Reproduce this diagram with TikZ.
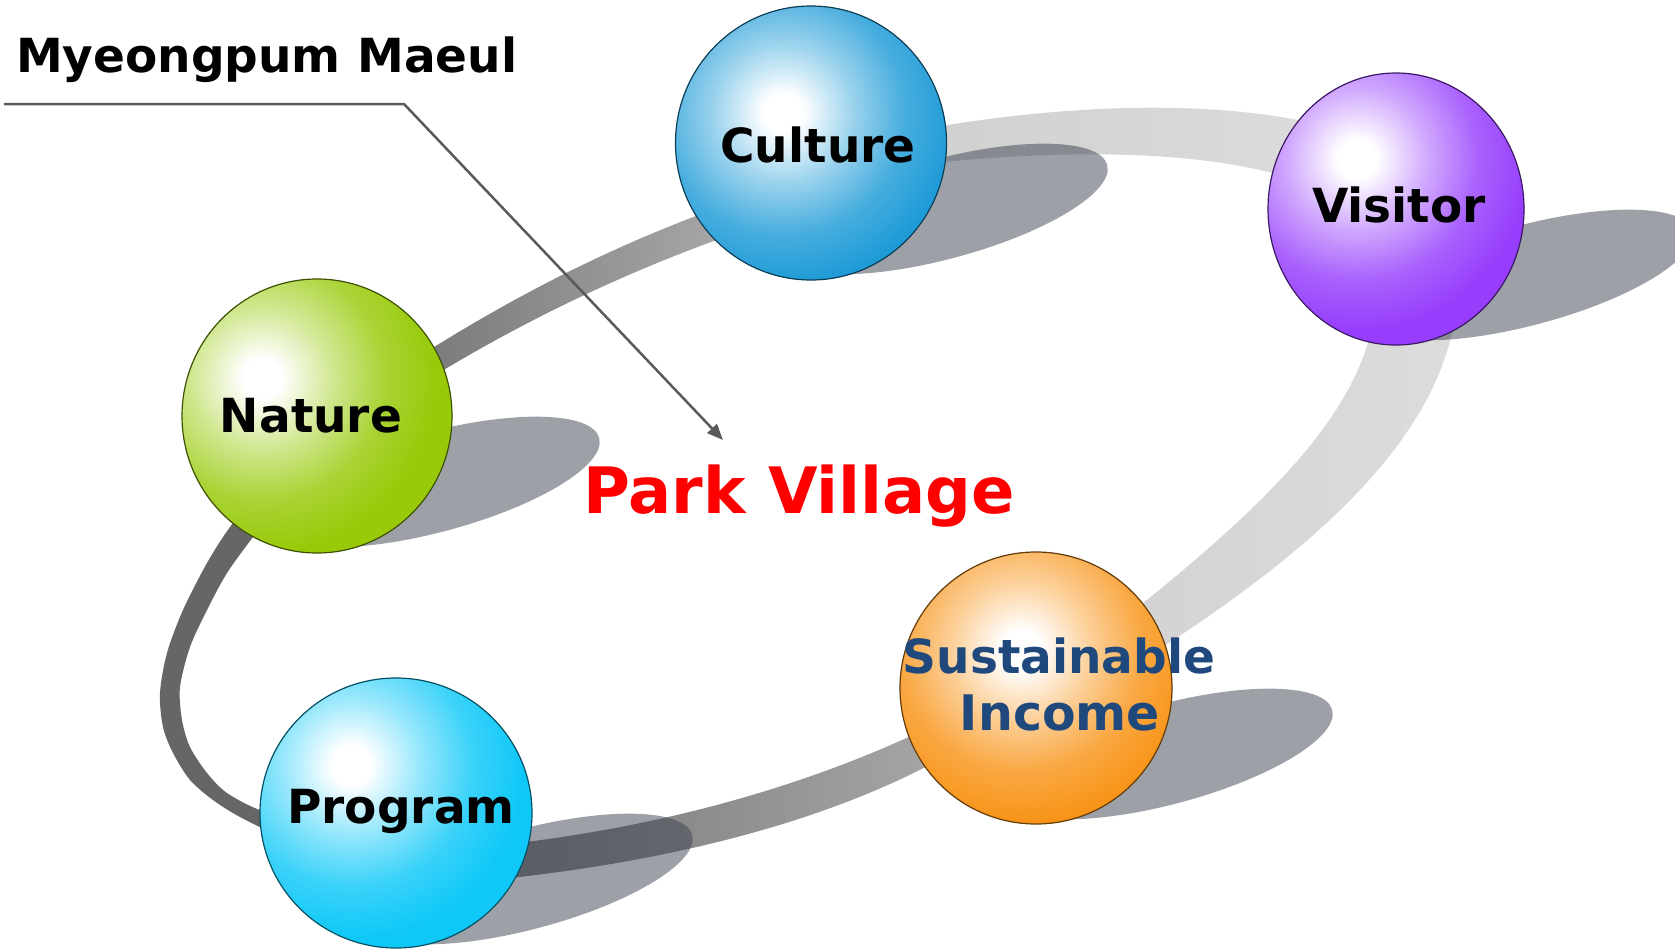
\documentclass[tikz,border=0pt]{standalone}
\usepackage{fontspec}
\setmainfont{DejaVu Sans}
\usetikzlibrary{shapes.geometric,arrows.meta}
\definecolor{culturec}{RGB}{30,155,215}
\definecolor{visitorc}{RGB}{150,62,252}
\definecolor{naturec}{RGB}{152,202,10}
\definecolor{programc}{RGB}{15,200,248}
\definecolor{incomec}{RGB}{248,148,24}
\definecolor{shadowc}{RGB}{60,68,80}
\definecolor{incometext}{RGB}{31,73,125}
\definecolor{leaderc}{RGB}{90,90,90}
\definecolor{segE}{RGB}{102,102,102}
\definecolor{segAl}{RGB}{118,118,118}
\definecolor{segAr}{RGB}{178,178,178}
\definecolor{segBl}{RGB}{206,206,206}
\definecolor{segBr}{RGB}{220,220,220}
\definecolor{segCl}{RGB}{210,210,210}
\definecolor{segCr}{RGB}{220,220,220}
\definecolor{segDl}{RGB}{116,116,116}
\definecolor{segDr}{RGB}{168,168,168}
\newcommand{\declglossy}[2]{\pgfdeclareradialshading{#1}{\pgfpointorigin}{color(0bp)=(white); color(1.85bp)=(white); color(6.8bp)=(#2!45!white); color(11.7bp)=(#2!82!white); color(16.6bp)=(#2); color(50bp)=(#2)}}
\declglossy{glossyNature}{naturec}
\declglossy{glossyCulture}{culturec}
\declglossy{glossyVisitor}{visitorc}
\declglossy{glossyProgram}{programc}
\declglossy{glossyIncome}{incomec}
\begin{document}
\begin{tikzpicture}[x=1pt,y=-1pt,
  sphere/.style n args={4}{ellipse, inner sep=0pt, draw=#2!40!black, line width=1.2pt, fill=#2,
    path picture={\shade[shading=#1] ([shift={(#3,#4)}]path picture bounding box.center) circle [radius=260];}},
  lbl/.style={font=\fontsize{47}{56}\selectfont\bfseries, anchor=base, inner sep=0pt},
  shad/.style={fill=shadowc, fill opacity=0.5},
  band/.style={draw=none}]
\useasboundingbox (0,0) rectangle (1675,950);

% ring band segments
\fill[band, fill=segE] plot[smooth] coordinates {(262,488) (230,527) (207,563) (183,610) (167,653) (160,693) (163,727) (173,753) (190,780) (213,800) (240,817) (290,842)} -- plot[smooth] coordinates {(300,818) (260,810) (227,793) (207,773) (190,747) (182,720) (180,687) (190,647) (207,610) (227,573) (253,537) (285,495)} -- cycle;
\shade[band, left color=segAl, right color=segAr] (395,372) .. controls (520,290) and (650,225) .. (800,181) -- (800,212) .. controls (650,258) and (520,320) .. (395,400) -- cycle;
\shade[band, left color=segBl, right color=segBr] (860,142) .. controls (1000,110) and (1200,90) .. (1340,130) -- (1340,200) .. controls (1250,145) and (1050,145) .. (860,172) -- cycle;
\shade[band, left color=segCl, right color=segCr] (1378,290) .. controls (1370,400) and (1290,490) .. (1090,645) -- (1110,680) .. controls (1340,540) and (1452,420) .. (1458,290) -- cycle;
\shade[band, left color=segDl, right color=segDr] (960,712) .. controls (820,785) and (650,832) .. (470,848) -- (470,882) .. controls (650,866) and (830,825) .. (960,748) -- cycle;

% shadows
\fill[shad, rotate around={15:(435,482)}] (435,482) ellipse [x radius=170, y radius=50];
\fill[shad, rotate around={15:(943,209)}] (943,209) ellipse [x radius=170, y radius=50];
\fill[shad, rotate around={15:(1528,275)}] (1528,275) ellipse [x radius=170, y radius=50];
\fill[shad, rotate around={15:(528,879)}] (528,879) ellipse [x radius=170, y radius=50];
\fill[shad, rotate around={15:(1168,754)}] (1168,754) ellipse [x radius=170, y radius=50];

% spheres
\node[sphere={glossyNature}{naturec}{-55}{-38}, minimum width=270pt, minimum height=274pt] (nature) at (317,416) {};
\node[sphere={glossyCulture}{culturec}{-28}{-30}, minimum width=271pt, minimum height=274pt] (culture) at (811,143) {};
\node[sphere={glossyVisitor}{visitorc}{-39}{-50}, minimum width=256pt, minimum height=272pt] (visitor) at (1396,209) {};
\node[sphere={glossyProgram}{programc}{-45}{-48}, minimum width=272pt, minimum height=270pt] (program) at (396,813) {};
\node[sphere={glossyIncome}{incomec}{-15}{-38}, minimum width=272pt, minimum height=272pt] (income) at (1036,688) {};

% labels
\node[lbl] (culturet) at (818,162) {Culture};
\node[lbl] (visitort) at (1399,222) {Visitor};
\node[lbl] (naturet) at (311,432) {Nature};
\node[lbl] (programt) at (401,823) {Program};
\node[lbl, text=incometext] (sustt) at (1059,673) {Sustainable};
\node[lbl, text=incometext, font=\fontsize{49}{56}\selectfont\bfseries] (incomet) at (1060,730) {Income};
\node[font=\fontsize{64}{70}\selectfont\bfseries, text=red, anchor=base, inner sep=0pt] (park) at (799,513) {Park Village};
\node[font=\fontsize{47}{56}\selectfont\bfseries, anchor=base west, inner sep=0pt] (title) at (16,73) {Myeongpum Maeul};

% leader arrow
\coordinate (lstart) at (4,104);
\coordinate (lbend) at (404,104);
\coordinate (ltip) at (723,440);
\draw[leaderc, line width=2.5pt, -{Triangle[length=16pt,width=13pt]}] (lstart) -- (lbend) -- (ltip);
\end{tikzpicture}
\end{document}
